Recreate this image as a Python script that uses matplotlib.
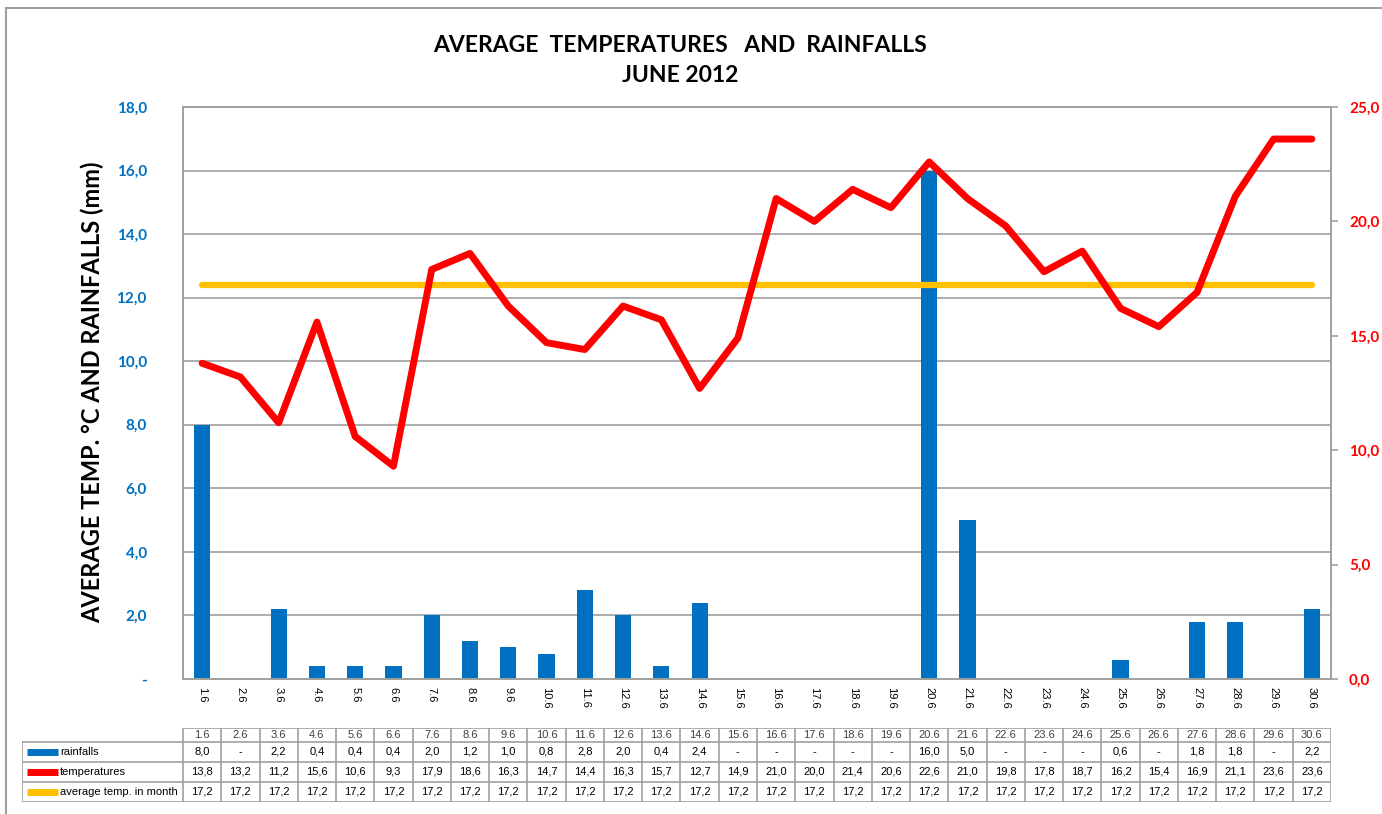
import numpy as np
import matplotlib.pyplot as plt
from matplotlib.patches import Rectangle

# data ----------------
days = ["1.6", "2.6", "3.6", "4.6", "5.6", "6.6", "7.6", "8.6", "9.6", "10.6",
        "11.6", "12.6", "13.6", "14.6", "15.6", "16.6", "17.6", "18.6", "19.6", "20.6",
        "21.6", "22.6", "23.6", "24.6", "25.6", "26.6", "27.6", "28.6", "29.6", "30.6"]
rainfalls = [8.0, 0, 2.2, 0.4, 0.4, 0.4, 2.0, 1.2, 1.0, 0.8,
             2.8, 2.0, 0.4, 2.4, 0, 0, 0, 0, 0, 16.0,
             5.0, 0, 0, 0, 0.6, 0, 1.8, 1.8, 0, 2.2]
temperatures = [13.8, 13.2, 11.2, 15.6, 10.6, 9.3, 17.9, 18.6, 16.3, 14.7,
                14.4, 16.3, 15.7, 12.7, 14.9, 21.0, 20.0, 21.4, 20.6, 22.6,
                21.0, 19.8, 17.8, 18.7, 16.2, 15.4, 16.9, 21.1, 23.6, 23.6]
avg_temp = [17.2] * 30
series_names = ["rainfalls", "temperatures", "average temp. in month"]

#COLORS ----------------
BLUE = "#0070C0"
RED = "#FF0000"
YELLOW = "#FFC000"
GRID = "#A0A0A0"

plt.rcParams['font.family'] = ['Lato', 'DejaVu Sans']
NARROW = ['Liberation Sans Narrow', 'Liberation Sans', 'DejaVu Sans']

W, H = 1382, 814
fig = plt.figure(figsize=(W / 100, H / 100), dpi=100)

def px(x0, y0, x1, y1):
    return [x0 / W, 1 - y1 / H, (x1 - x0) / W, (y1 - y0) / H]

x = np.arange(len(days))

# main chart
ax = fig.add_axes(px(183, 107, 1331, 679))
ax.bar(x, rainfalls, width=0.42, color=BLUE, zorder=2)
ax.set_xlim(-0.5, len(days) - 0.5)
ax.set_ylim(0, 18)
ax.set_yticks(np.arange(0, 19, 2))
ax.set_yticklabels(["-" if v == 0 else f"{v:.1f}".replace(".", ",") for v in np.arange(0, 19, 2)])
ax.tick_params(axis='y', length=0, pad=26, labelcolor=BLUE, labelsize=11)
for t in ax.get_yticklabels():
    t.set_fontweight('bold')
ax.set_xticks(x)
ax.set_xticklabels(days, rotation=-90, fontsize=8, family=NARROW)
ax.tick_params(axis='x', length=0, pad=6)
ax.yaxis.grid(True, color=GRID, linewidth=1.2, zorder=0)
ax.set_axisbelow(True)
for s in ax.spines.values():
    s.set_color(GRID)
    s.set_linewidth(1.2)

ax2 = ax.twinx()
ax2.plot(x, temperatures, color=RED, linewidth=5, solid_capstyle='round', solid_joinstyle='round', zorder=3)
ax2.plot(x, avg_temp, color=YELLOW, linewidth=4.5, solid_capstyle='round', zorder=2)
ax2.set_ylim(0, 25)
ax2.set_yticks(np.arange(0, 26, 5))
ax2.set_yticklabels([f"{v:.1f}".replace(".", ",") for v in np.arange(0, 26, 5)])
ax2.tick_params(axis='y', length=5, width=1.2, color=GRID, pad=8, labelcolor=RED, labelsize=11)
for t in ax2.get_yticklabels():
    t.set_fontweight('bold')
for s in ax2.spines.values():
    s.set_color(GRID)
    s.set_linewidth(1.2)

fig.text(680 / W, 1 - 45 / H, "AVERAGE  TEMPERATURES   AND  RAINFALLS", ha='center', va='center',
         fontsize=16.5, fontweight='bold')
fig.text(680 / W, 1 - 76 / H, "JUNE 2012", ha='center', va='center', fontsize=16.5, fontweight='bold')
fig.text(92 / W, 1 - 392 / H, "AVERAGE TEMP. °C AND RAINFALLS (mm)", rotation=90, ha='center',
         va='center', fontsize=17, fontweight='bold')

# data table under the chart
cw = 1148 / len(days)
lab_w = (183 - 22) / cw
tab = fig.add_axes(px(22, 728, 1331, 802))
tab.set_xlim(-0.5 - lab_w, len(days) - 0.5)
tab.set_ylim(74, 0)
tab.axis('off')
rows_y = [0, 14, 34, 54, 74]
lc = dict(color=GRID, linewidth=1.2, solid_capstyle='butt')
# horizontal lines
tab.plot([-0.5, len(days) - 0.5], [0, 0], **lc)
for yy in rows_y[1:]:
    tab.plot([-0.5 - lab_w, len(days) - 0.5], [yy, yy], **lc)
# vertical lines
tab.plot([-0.5 - lab_w] * 2, [14, 74], **lc)
for i in range(len(days) + 1):
    tab.plot([i - 0.5] * 2, [0, 74], **lc)

def fmt(v, dash=False):
    if dash and v == 0:
        return "-"
    return f"{v:.1f}".replace(".", ",")

for i, d in enumerate(days):
    tab.text(i, 7, d, ha='center', va='center', fontsize=8, family=NARROW, color='#404040')
    tab.text(i, 24, fmt(rainfalls[i], True), ha='center', va='center', fontsize=8, family=NARROW)
    tab.text(i, 44, fmt(temperatures[i]), ha='center', va='center', fontsize=8, family=NARROW)
    tab.text(i, 64, fmt(avg_temp[i]), ha='center', va='center', fontsize=8, family=NARROW)

key_colors = [BLUE, RED, YELLOW]
x0 = -0.5 - lab_w
for j, (name, c) in enumerate(zip(series_names, key_colors)):
    yy = 24 + 20 * j
    tab.plot([x0 + 5 / cw, x0 + 36 / cw], [yy, yy], color=c, linewidth=5, solid_capstyle='butt')
    tab.text(x0 + 38 / cw, yy, name, ha='left', va='center', fontsize=8, family=NARROW)

# outer border
fig.add_artist(Rectangle((6 / W, -0.1), 1.2, 1.1 - 8 / H, transform=fig.transFigure,
                         fill=False, edgecolor=GRID, linewidth=1.5))

fig.savefig("out.png", dpi=100)
